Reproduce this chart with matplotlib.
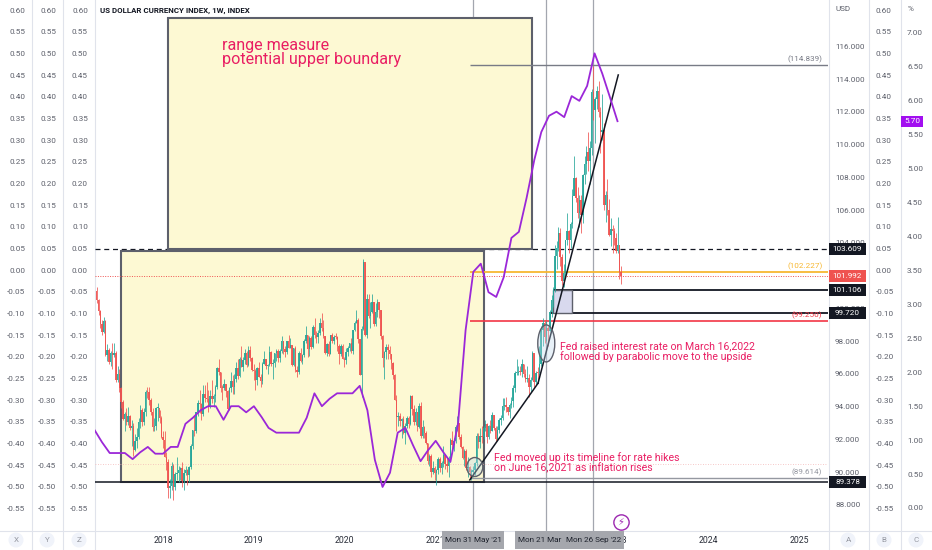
import numpy as np
import pandas as pd
import matplotlib
matplotlib.use('Agg')
import matplotlib.pyplot as plt
from matplotlib.patches import Rectangle, Ellipse
from matplotlib.lines import Line2D
from matplotlib.transforms import blended_transform_factory as blend

plt.rcParams['font.family'] = ['Roboto', 'DejaVu Sans']

# ---------------------------------------------------------------- data
title = 'US DOLLAR CURRENCY INDEX, 1W, INDEX'
first_week = '2017-04-10'          # weekly candles, Monday dates
first_open = 101.08

closes = [
    # 2017
    100.52, 99.86, 99.04, 98.58, 99.23, 97.13, 97.43, 96.71, 97.25, 97.16,
    97.26, 95.63, 96.02, 95.15, 94.26, 93.25, 93.53, 93.06, 93.42, 92.68,
    92.81, 91.34, 91.87, 92.16, 93.07, 93.81, 93.07, 93.69, 94.89, 94.88,
    94.39, 93.65, 92.76, 92.79, 93.90, 93.91, 93.28, 92.12,
    # 2018
    91.96, 90.95, 90.59, 89.05, 89.17, 90.35, 89.08, 89.87, 89.94, 90.11,
    90.25, 89.44, 89.97, 90.10, 89.80, 90.33, 91.57, 92.55, 92.51, 93.64,
    94.25, 94.17, 93.55, 94.80, 94.52, 94.47, 94.01, 94.67, 94.44, 94.67,
    95.19, 96.37, 96.13, 95.16, 95.14, 95.40, 94.93, 93.85, 95.13, 95.58,
    95.22, 95.67, 96.37, 95.86, 96.91, 96.44, 96.85, 97.27, 96.56, 97.45,
    96.95, 96.25,
    # 2019
    96.19, 95.65, 96.36, 95.80, 95.58, 96.63, 96.91, 96.51, 96.52, 97.31,
    96.60, 96.64, 97.27, 97.39, 96.95, 97.41, 98.01, 97.49, 97.33, 98.00,
    97.61, 97.75, 96.54, 97.57, 96.22, 96.13, 97.29, 96.81, 97.16, 98.02,
    98.40, 97.51, 98.17, 97.67, 98.87, 98.40, 98.26, 98.52, 99.12, 98.81,
    98.30, 97.28, 97.83, 97.23, 98.35, 98.00, 98.28, 98.27, 97.70, 97.19,
    97.68, 96.92,
    # 2020
    96.84, 97.36, 97.61, 97.88, 97.39, 98.68, 99.13, 99.26, 98.13, 95.96,
    98.74, 102.82, 98.37, 100.58, 99.52, 99.77, 100.37, 99.07, 99.75, 100.39,
    99.88, 98.34, 96.94, 97.33, 97.64, 97.43, 97.19, 96.65, 95.90, 94.43,
    93.35, 93.43, 93.09, 93.25, 92.37, 92.80, 93.28, 92.95, 94.63, 93.84,
    93.06, 93.69, 92.76, 94.04, 92.23, 92.75, 92.39, 91.79, 90.70, 90.98,
    90.02, 90.24,
    # 2021
    89.94, 90.10, 90.77, 90.24, 90.58, 91.04, 90.48, 90.36, 90.88, 91.98,
    91.67, 91.92, 92.77, 93.02, 92.16, 91.56, 90.85, 91.28, 90.22, 90.30,
    89.99, 90.03, 90.13, 90.55, 92.23, 91.85, 92.23, 92.12, 92.69, 92.91,
    92.17, 92.80, 92.53, 93.49, 92.68, 92.05, 92.58, 93.20, 93.29, 94.04,
    94.08, 93.97, 93.64, 94.12, 94.32, 95.12, 96.03, 96.08, 96.14, 96.09,
    96.63, 96.02, 95.67,
    # 2022
    95.75, 95.17, 95.64, 97.27, 95.48, 96.08, 96.05, 96.62, 98.67, 99.13,
    98.23, 98.79, 98.62, 99.80, 100.52, 101.18, 103.21, 103.66, 104.60, 103.15,
    101.67, 102.16, 104.15, 104.71, 104.20, 105.14, 106.89, 107.99, 106.73, 105.85,
    106.62, 105.68, 108.15, 108.80, 109.54, 109.00, 109.79, 113.19, 112.12, 112.79,
    113.31, 111.98, 110.76, 110.87, 106.29, 106.93, 106.02, 104.51, 104.82, 104.72,
    104.32, 103.52,
    # 2023
    103.88, 102.20, 101.992,
]
highs = [
    101.3, 100.6, 99.9, 99.3, 99.5, 99.3, 97.8, 97.6, 97.4, 97.9,
    97.9, 97.4, 96.5, 96.3, 95.2, 94.4, 93.7, 93.9, 94.0, 93.5,
    93.2, 93.0, 92.3, 92.7, 93.3, 94.1, 93.9, 93.9, 95.0, 95.2,
    95.2, 94.5, 93.9, 93.3, 94.0, 94.2, 93.8, 93.4,
    92.5, 92.5, 91.2, 90.8, 89.6, 90.6, 90.5, 90.0, 90.9, 90.4,
    90.3, 90.6, 90.2, 90.4, 90.2, 90.4, 91.7, 92.6, 93.4, 93.6,
    94.4, 95.0, 94.2, 95.3, 95.3, 95.5, 95.0, 95.0, 95.6, 94.8,
    95.3, 96.4, 96.9, 96.1, 95.3, 95.7, 95.4, 95.0, 95.2, 96.1,
    95.9, 96.0, 96.7, 96.9, 97.0, 97.7, 97.0, 97.5, 97.4, 97.7,
    97.7, 97.0,
    96.6, 96.3, 96.4, 96.7, 96.0, 96.7, 97.4, 96.9, 96.6, 97.7,
    97.4, 96.9, 97.3, 97.5, 97.5, 97.5, 98.3, 98.0, 97.7, 98.0,
    98.4, 98.2, 97.7, 97.6, 97.7, 96.5, 97.4, 97.6, 97.2, 98.1,
    98.9, 98.4, 98.3, 98.3, 99.0, 99.4, 98.6, 98.7, 99.4, 99.7,
    99.3, 98.3, 97.9, 98.0, 98.4, 98.5, 98.4, 98.5, 98.3, 97.8,
    97.8, 97.8,
    97.0, 97.6, 97.7, 97.9, 98.2, 98.7, 99.2, 99.9, 99.4, 98.1,
    98.9, 103.0, 102.8, 100.9, 100.9, 100.4, 100.9, 100.4, 100.3, 100.6,
    100.4, 99.9, 98.4, 97.4, 97.8, 97.8, 97.7, 97.2, 96.7, 96.0,
    94.7, 93.7, 93.6, 93.3, 93.4, 93.0, 93.4, 93.4, 94.7, 94.7,
    94.1, 93.9, 93.7, 94.2, 94.3, 93.2, 92.8, 92.5, 91.8, 91.1,
    91.1, 90.7,
    90.4, 90.2, 90.9, 90.9, 90.7, 91.6, 91.1, 90.9, 91.0, 92.1,
    92.5, 92.1, 92.9, 93.4, 93.0, 92.3, 91.6, 91.4, 91.4, 90.9,
    90.4, 90.2, 90.4, 90.6, 92.4, 92.4, 92.7, 92.8, 92.8, 93.2,
    93.0, 92.9, 93.2, 93.7, 93.5, 92.8, 92.8, 93.3, 93.5, 94.5,
    94.5, 94.6, 94.0, 94.2, 94.6, 95.3, 96.2, 96.9, 96.5, 96.5,
    96.9, 96.6, 96.3,
    96.5, 96.0, 95.8, 97.4, 97.2, 96.2, 96.4, 97.7, 98.9, 99.4,
    99.3, 99.2, 98.9, 99.9, 100.8, 101.3, 103.9, 104.1, 105.0, 104.9,
    103.3, 102.7, 104.2, 105.8, 104.8, 105.3, 107.3, 109.3, 108.0, 107.4,
    106.9, 106.9, 108.2, 109.3, 109.9, 110.8, 110.2, 113.4, 114.8, 112.9,
    113.6, 113.9, 112.3, 113.1, 111.3, 107.2, 107.9, 106.7, 105.5, 105.1,
    104.9, 104.6,
    105.6, 103.9, 102.6,
]
lows = [
    100.3, 99.6, 98.8, 98.4, 98.5, 97.1, 96.8, 96.6, 96.5, 96.3,
    97.0, 95.5, 95.5, 94.9, 93.9, 93.2, 92.5, 92.9, 92.9, 92.6,
    91.6, 91.0, 91.3, 91.5, 92.0, 92.7, 92.8, 92.9, 93.4, 94.5,
    94.1, 93.5, 92.5, 92.5, 92.6, 93.1, 93.0, 92.1,
    91.5, 90.9, 90.1, 88.4, 88.4, 88.9, 88.3, 88.9, 89.5, 89.4,
    89.5, 89.1, 88.9, 89.8, 89.2, 89.4, 90.2, 91.4, 92.2, 92.4,
    93.4, 93.6, 93.2, 93.4, 94.3, 94.3, 93.7, 93.9, 94.2, 94.0,
    94.3, 95.1, 95.9, 94.9, 94.4, 95.0, 94.6, 93.8, 93.8, 94.9,
    94.8, 94.8, 95.5, 95.7, 95.8, 96.4, 96.2, 96.6, 96.4, 96.5,
    96.8, 96.2,
    95.6, 95.0, 95.3, 95.8, 95.2, 95.4, 96.6, 96.3, 96.0, 96.5,
    96.5, 95.7, 96.4, 96.8, 96.7, 96.7, 97.3, 97.2, 97.0, 97.2,
    97.6, 97.6, 96.5, 96.5, 96.1, 95.8, 96.0, 96.7, 96.6, 97.0,
    97.9, 97.0, 97.1, 97.5, 97.6, 98.2, 97.9, 97.9, 98.4, 98.6,
    98.2, 97.2, 97.1, 97.1, 97.2, 97.9, 97.8, 98.1, 97.4, 96.6,
    97.1, 96.9,
    96.4, 96.6, 97.1, 97.4, 97.3, 97.2, 98.6, 99.1, 97.9, 95.9,
    94.6, 98.7, 98.3, 98.2, 99.4, 98.8, 99.7, 98.9, 98.9, 99.5,
    99.4, 98.1, 96.4, 95.7, 96.9, 96.9, 96.9, 96.3, 95.7, 94.4,
    92.5, 92.8, 92.8, 92.1, 92.3, 91.7, 92.7, 92.7, 92.9, 93.5,
    92.9, 92.9, 92.5, 92.7, 92.1, 92.1, 92.1, 91.7, 90.5, 90.4,
    89.7, 89.9,
    89.5, 89.2, 89.9, 90.0, 89.9, 90.3, 90.2, 90.0, 89.7, 90.6,
    91.4, 91.3, 91.8, 92.5, 92.0, 91.5, 90.8, 90.4, 90.1, 89.7,
    89.6, 89.5, 89.7, 89.8, 90.4, 91.5, 91.5, 91.8, 92.0, 92.5,
    91.8, 92.0, 92.4, 92.5, 92.6, 91.9, 91.9, 92.4, 92.9, 93.2,
    93.8, 93.7, 93.5, 93.3, 93.9, 94.0, 94.9, 95.9, 95.9, 95.9,
    95.8, 95.8, 95.5,
    95.5, 94.6, 94.9, 95.6, 95.2, 95.3, 95.6, 95.9, 96.5, 97.7,
    97.9, 98.0, 97.7, 98.6, 99.5, 100.1, 101.0, 102.4, 103.5, 102.6,
    101.4, 101.3, 101.9, 103.9, 103.4, 103.7, 104.9, 106.9, 106.5, 105.5,
    105.0, 104.6, 105.2, 107.6, 108.2, 108.4, 107.6, 109.4, 111.5, 110.1,
    112.2, 111.7, 109.5, 110.3, 106.0, 105.3, 105.7, 104.4, 103.8, 103.4,
    103.9, 103.4,
    103.4, 101.8, 101.5,
]

# monthly indicator (purple line, % scale)
ind_start = '2017-04-01'
ind_values = [
    1.15, 0.97, 0.81, 0.81, 0.81, 0.72, 0.82, 0.90, 0.80,
    0.80, 0.90, 0.90, 1.24, 1.33, 1.44, 1.50, 1.50, 1.30, 1.50, 1.50, 1.41,
    1.50, 1.34, 1.18, 1.11, 1.11, 1.11, 1.11, 1.33, 1.69, 1.50, 1.61, 1.69,
    1.69, 1.69, 1.80, 1.44, 0.71, 0.31, 0.52, 1.11, 1.18, 0.93, 0.69, 0.85,
    0.99, 0.82, 0.68, 1.25, 2.62, 3.48, 3.60, 3.18, 3.11, 3.40, 3.98, 4.07,
    4.57, 5.13, 5.54, 5.78, 5.84, 5.76, 6.07, 6.00, 6.22, 6.70, 6.40, 6.06,
    5.70,
]

year_ticks = [2018, 2019, 2020, 2021, 2023, 2024, 2025]
price_ticks = [88, 90, 92, 94, 96, 98, 100, 104, 106, 108, 110, 112, 114, 116]
aux_ticks = [0.60, 0.55, 0.50, 0.45, 0.40, 0.35, 0.30, 0.25, 0.20, 0.15, 0.10, 0.05,
             0.00, -0.05, -0.10, -0.15, -0.20, -0.25, -0.30, -0.35, -0.40, -0.45,
             -0.50, -0.55]
pct_ticks = [0.0, 0.5, 1.0, 1.5, 2.0, 2.5, 3.0, 3.5, 4.0, 4.5, 5.0, 5.5, 6.0, 6.5, 7.0]

# drawing anchors (date, price)
range_top, range_mid, lower_top, range_low = 117.74, 103.609, 103.50, 89.378
upper_box = ('2018-01-21', '2022-01-22')
lower_box = ('2017-07-16', '2021-07-13')
level_start = '2021-05-18'
lvl_high, lvl_orange, last_price = 114.839, 102.227, 101.992
lvl_b1, lvl_b2, lvl_red, lvl_low = 101.106, 99.720, 99.250, 89.614
b1_start, b2_start, small_box_end = '2022-04-17', '2022-04-09', '2022-07-01'
faint_level = 90.50
trend1 = (('2021-05-18', 89.52), ('2022-02-16', 95.43))
trend2 = (('2022-02-16', 95.43), ('2023-01-04', 114.26))
ellipse1 = ('2021-06-07', 90.31, 0.176, 1.16)
ellipse2 = ('2022-03-21', 97.86, 0.187, 2.26)
marker_dates = ['2021-05-31', '2022-03-21', '2022-09-26']
marker_labels = ["Mon 31 May '21", "Mon 21 Mar '22", "Mon 26 Sep '22"]
note_range = ('2018-08-25', 115.63, 'range measure\npotential upper boundary')
note_2022 = ('2022-05-15', 97.37,
             'Fed raised interest rate on March 16,2022\nfollowed by parabolic move to the upside')
note_2021 = ('2021-08-22', 90.56,
             'Fed moved up its timeline for rate hikes\non June 16,2021 as inflation rises')
event_icon = ('2023-01-15', 86.95)
last_ind = 5.70


def dy(d):
    d = pd.Timestamp(d)
    y0 = pd.Timestamp(d.year, 1, 1)
    y1 = pd.Timestamp(d.year + 1, 1, 1)
    return d.year + (d - y0) / (y1 - y0)


# ---------------------------------------------------------------- figure
W, H = 932, 550
fig = plt.figure(figsize=(W / 100, H / 100), dpi=100)
fig.patch.set_facecolor('white')
rect = [95 / W, (H - 531) / H, (828 - 95) / W, 531 / H]
XL = (2017.2519, 2025.3157)
PRICE_LIM = (86.40, 118.84)
PCT_LIM = (-0.339, 7.486)
AUX_LIM = (-0.6023, 0.6231)
TICK_C = '#5d606b'
TS = 5.9


def mk_axes(ylim, z):
    a = fig.add_axes(rect, zorder=z)
    a.set_xlim(XL)
    a.set_ylim(ylim)
    a.patch.set_alpha(0)
    for s in a.spines.values():
        s.set_visible(False)
    a.tick_params(length=0)
    a.set_xticks([])
    a.set_yticks([])
    return a


# side scales
def side_axis(ylim, ticks, fmt, side, pad_px):
    a = mk_axes(ylim, 0)
    a.set_yticks(ticks)
    a.set_yticklabels([fmt(t) for t in ticks])
    if side == 'right':
        a.yaxis.tick_right()
    else:
        a.yaxis.tick_left()
    a.tick_params(axis='y', length=0, pad=pad_px * 0.72, labelsize=TS, labelcolor=TICK_C)
    return a


fmt_aux = lambda v: f'{v:.2f}'.replace('-0.00', '0.00')
for pad in (70, 39, 7):
    side_axis(AUX_LIM, aux_ticks, fmt_aux, 'left', pad)
side_axis(AUX_LIM, aux_ticks, fmt_aux, 'right', 48)
side_axis(PCT_LIM, pct_ticks, lambda v: f'{v:.2f}', 'right', 79)

# main price axes
ax = mk_axes(PRICE_LIM, 1)
ax.set_yticks(price_ticks)
ax.set_yticklabels([f'{v:.3f}' for v in price_ticks])
ax.yaxis.tick_right()
ax.tick_params(axis='y', length=0, pad=7 * 0.72, labelsize=TS, labelcolor=TICK_C)
ax.set_xticks(year_ticks)
ax.set_xticklabels([str(y) for y in year_ticks])
ax.tick_params(axis='x', length=0, pad=3.6, labelsize=6.3, labelcolor='#2a2e39')

# boxes
ub0, ub1 = dy(upper_box[0]), dy(upper_box[1])
lb0, lb1 = dy(lower_box[0]), dy(lower_box[1])
ax.add_patch(Rectangle((ub0, range_mid), ub1 - ub0, range_top - range_mid,
                       fc='#fdf9d3', ec='#5d606b', lw=1.5, zorder=1))
ax.add_patch(Rectangle((lb0, range_low), lb1 - lb0, lower_top - range_low,
                       fc='#fdf9d3', ec='#5d606b', lw=1.5, zorder=1))
ax.axhline(range_mid, color='#131722', lw=0.9, ls=(0, (4, 3)), zorder=0.5)

# vertical markers
for d in marker_dates:
    ax.axvline(dy(d), color='#a3a6af', lw=0.9, zorder=0.8)

# horizontal levels
xs = dy(level_start)
ax.hlines(lvl_high, xs, XL[1], color='#787b86', lw=1.0, zorder=2)
ax.hlines(lvl_orange, xs, XL[1], color='#f7b731', lw=1.3, zorder=2)
ax.hlines(lvl_red, xs, XL[1], color='#f23645', lw=1.2, zorder=2)
ax.hlines(lvl_low, xs, XL[1], color='#9598a1', lw=1.0, zorder=2)
ax.axhline(range_low, color='#131722', lw=1.1, zorder=2)
ax.axhline(last_price, color='#ef5350', lw=0.7, ls=(0, (1, 1.5)), zorder=2)
ax.axhline(faint_level, color='#f4b6b6', lw=0.6, ls=(0, (1, 2)), zorder=1.5)
ax.hlines(lvl_b1, dy(b1_start), XL[1], color='#131722', lw=1.3, zorder=2)
ax.hlines(lvl_b2, dy(b2_start), XL[1], color='#131722', lw=1.3, zorder=2)
ax.add_patch(Rectangle((dy(b1_start), lvl_b2), dy(small_box_end) - dy(b1_start),
                       lvl_b1 - lvl_b2, fc='#d8d9ee', ec='#5d606b', lw=1.0, zorder=2))

for val, col in ((lvl_high, '#787b86'), (lvl_orange, '#f7b731'),
                 (lvl_red, '#f23645'), (lvl_low, '#9598a1')):
    ax.annotate(f'({val:.3f})', xy=(XL[1], val), xytext=(-4, 1.5),
                textcoords='offset points', ha='right', va='bottom',
                fontsize=TS, color=col, zorder=3)

# candles
dates = pd.date_range(first_week, periods=len(closes), freq='7D')
cx = np.array([dy(d) for d in dates])
c = np.array(closes)
o = np.r_[first_open, c[:-1]]
col = np.where(c >= o, '#26a69a', '#ef5350')
ax.vlines(cx, lows, highs, colors=col, lw=0.7, alpha=0.8, zorder=4)
bw = 0.85 * 7 / 365.25
ax.bar(cx, np.maximum(np.abs(c - o), 0.06), bottom=np.minimum(o, c), width=bw,
       color=col, alpha=0.92, lw=0, zorder=4)

# trend lines
for (d0, p0), (d1, p1) in (trend1, trend2):
    ax.plot([dy(d0), dy(d1)], [p0, p1], color='#131722', lw=1.1, zorder=5)

# ellipses
for d, p, w, h in (ellipse1, ellipse2):
    ax.add_patch(Ellipse((dy(d), p), w, h, fc=(0.75, 0.85, 0.93, 0.35),
                         ec='#5d606b', lw=1.0, zorder=5))

# notes
PINK = '#e91e63'
ax.text(dy(note_range[0]), note_range[1], note_range[2], color=PINK, fontsize=11.6,
        va='center', ha='left', linespacing=0.85, zorder=6)
ax.text(dy(note_2022[0]), note_2022[1], note_2022[2], color=PINK, fontsize=7.6,
        va='center', ha='left', linespacing=0.95, zorder=6)
ax.text(dy(note_2021[0]), note_2021[1], note_2021[2], color=PINK, fontsize=7.7,
        va='center', ha='left', linespacing=0.95, zorder=6)

# event icon
ax.plot([dy(event_icon[0])], [event_icon[1]], marker='o', ms=11, mfc='white',
        mec='#9c27b0', mew=1.0, zorder=6, clip_on=False)
ax.text(dy(event_icon[0]), event_icon[1], '\u26a1', color='#9c27b0', fontsize=7,
        ha='center', va='center', zorder=7, family='DejaVu Sans')

# purple indicator
axp = mk_axes(PCT_LIM, 2)
mdates = pd.date_range(ind_start, periods=len(ind_values), freq='MS')
axp.plot([dy(d) for d in mdates], ind_values, color='#9b27d8', lw=1.3, zorder=3)

# ---------------------------------------------------------------- frame
for xp in (32, 63, 95, 829, 869, 901):
    fig.add_artist(Line2D([xp / W, xp / W], [0, 1], transform=fig.transFigure,
                          color='#e0e3eb', lw=0.8, zorder=0.1))
fig.add_artist(Line2D([0, 1], [(H - 531) / H] * 2, transform=fig.transFigure,
                      color='#e0e3eb', lw=0.8, zorder=0.1))

fig.text(100 / W, 1 - 11 / H, title, fontsize=5.7, fontweight='bold', color='#131722',
         va='center', ha='left')
fig.text(835 / W, 1 - 9 / H, 'USD', fontsize=TS, color=TICK_C, va='center', ha='left')
fig.text(908 / W, 1 - 9 / H, '%', fontsize=TS, color=TICK_C, va='center', ha='left')

for xp, letter in ((16, 'X'), (47, 'Y'), (79, 'Z'), (848, 'A'), (884, 'B'), (916, 'C')):
    fig.add_artist(Ellipse((xp / W, 1 - 540 / H), 15 / W, 15 / H, transform=fig.transFigure,
                           fc='#f0f3fa', ec='none', zorder=1))
    fig.text(xp / W, 1 - 540 / H, letter, fontsize=5.8, color='#9598a1',
             ha='center', va='center', zorder=2)

# price tags
trp = blend(fig.transFigure, ax.transData)
ph = 12 / 16.37
for val, fc in ((range_mid, '#131722'), (last_price, '#ef5350'), (lvl_b1, '#131722'),
                (lvl_b2, '#131722'), (range_low, '#131722')):
    fig.add_artist(Rectangle((829 / W, val - ph / 2), 37 / W, ph, transform=trp,
                             fc=fc, ec='none', zorder=10))
    fig.text(847.5 / W, val, f'{val:.3f}', transform=trp, fontsize=TS, color='white',
             ha='center', va='center', zorder=11)
trq = blend(fig.transFigure, axp.transData)
qh = 11 / 67.86
fig.add_artist(Rectangle((901 / W, last_ind - qh / 2), 22 / W, qh, transform=trq,
                         fc='#a20ff0', ec='none', zorder=10))
fig.text(912 / W, last_ind, f'{last_ind:.2f}', transform=trq, fontsize=TS, color='white',
         ha='center', va='center', zorder=11)

# date tags on time axis (Sep first, then Mar on top)
trx = blend(ax.transData, fig.transFigure)
half = 31 / 90.9
for i in (0, 2, 1):
    xc = dy(marker_dates[i])
    fig.add_artist(Rectangle((xc - half, 1 - 549 / H), 2 * half, 18 / H, transform=trx,
                             fc='#a5a7ad', ec='none', zorder=10 + i))
    fig.text(xc, 1 - 540 / H, marker_labels[i], transform=trx, fontsize=5.9,
             color='#1e222d', ha='center', va='center', zorder=10.5 + i)

fig.savefig('out.png', dpi=100, facecolor='white')
